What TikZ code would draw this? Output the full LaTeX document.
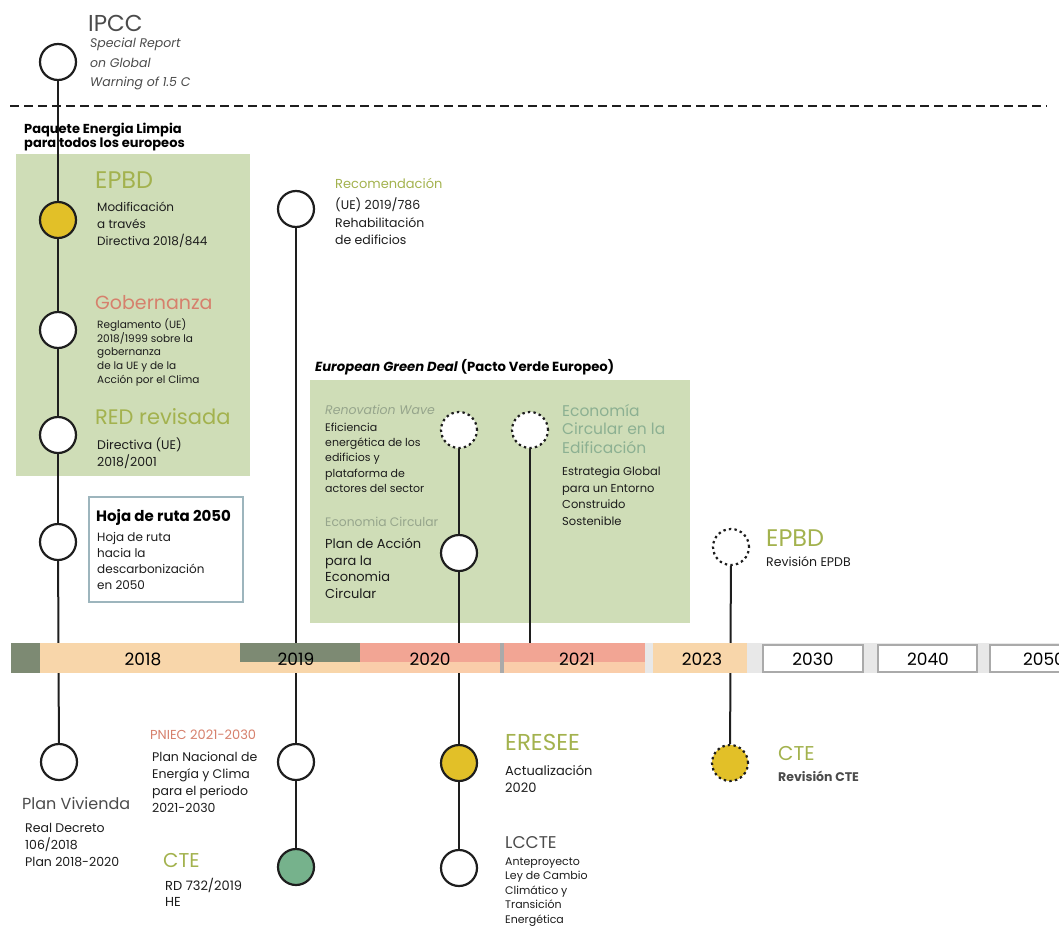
\documentclass[tikz,border=0pt]{standalone}
\usepackage{fontspec}
\setmainfont{Poppins}
\usetikzlibrary{backgrounds}
\definecolor{cBox}{RGB}{207,221,183}
\definecolor{cOlive}{RGB}{163,178,78}
\definecolor{cSalmon}{RGB}{214,128,108}
\definecolor{cMint}{RGB}{140,176,146}
\definecolor{cSage}{RGB}{150,165,140}
\definecolor{cGold}{RGB}{226,192,40}
\definecolor{cGreen}{RGB}{118,178,140}
\definecolor{cDark}{RGB}{125,138,115}
\definecolor{cPeach}{RGB}{248,214,170}
\definecolor{cPeachL}{RGB}{250,205,170}
\definecolor{cSalBar}{RGB}{242,165,148}
\definecolor{cLight}{RGB}{232,232,232}
\definecolor{cBoxB}{RGB}{170,170,170}
\definecolor{cLine}{RGB}{30,30,30}
\definecolor{cBody}{RGB}{28,28,28}
\definecolor{cHoja}{RGB}{157,181,189}
\definecolor{cGreyT}{RGB}{75,75,75}
\begin{document}
\begin{tikzpicture}[x=1pt,y=-1pt,
  ev/.style={circle, draw=cLine, line width=2.2pt, fill=white, minimum size=36pt, inner sep=0pt},
  evgold/.style={ev, fill=cGold},
  evgreen/.style={ev, fill=cGreen},
  evdot/.style={ev, dash pattern=on 2.4pt off 3.2pt},
  conn/.style={draw=cLine, line width=2pt},
  hd/.style={anchor=west, inner sep=0pt, font=\fontsize{19}{22}\selectfont},
  lbl/.style={anchor=west, inner sep=0pt, font=\fontsize{12.5}{14}\selectfont},
  body/.style={anchor=north west, inner sep=0pt, align=left, text=cBody, font=\fontsize{12}{17}\selectfont},
  yr/.style={inner sep=0pt, text=black, font=\fontsize{17}{18}\selectfont},
  yrbox/.style={draw=cBoxB, line width=1.5pt, fill=white}
]
\useasboundingbox (0,0) rectangle (1059,926);

% ---------- event circles ----------
\node[ev] (ipcc) at (58,62) {};
\node[evgold] (epbd) at (58,220) {};
\node[ev] (gob) at (58,330) {};
\node[ev] (red) at (58,435) {};
\node[ev] (hoja) at (58,542) {};
\node[ev] (viv) at (59,762) {};

\node[ev] (rec) at (296,209) {};
\node[ev] (pniec) at (296,762) {};
\node[evgreen] (cteA) at (296,867) {};

\node[evdot] (ren) at (459,430) {};
\node[ev] (eco) at (459,553) {};
\node[evgold] (eres) at (459,763) {};
\node[ev] (lccte) at (459,868) {};

\node[evdot] (edif) at (530,430) {};
\coordinate (edifend) at (530,645);

\node[evdot] (epbdB) at (731,547) {};
\node[evgold, dash pattern=on 2.4pt off 3.2pt] (cteB) at (730,763) {};

% ---------- background boxes and connectors ----------
\begin{scope}[on background layer]
  \fill[cBox] (16,154) rectangle (250,476);
  \fill[cBox] (310,380) rectangle (690,623);
  \draw[conn] (ipcc) -- (epbd);
  \draw[conn] (epbd) -- (gob);
  \draw[conn] (gob) -- (red);
  \draw[conn] (red) -- (hoja);
  \draw[conn] (hoja) -- (viv);
  \draw[conn] (rec) -- (pniec);
  \draw[conn] (pniec) -- (cteA);
  \draw[conn] (ren) -- (eco);
  \draw[conn] (eco) -- (eres);
  \draw[conn] (eres) -- (lccte);
  \draw[conn] (edif) -- (edifend);
  \draw[conn] (epbdB) -- (cteB);
\end{scope}

% ---------- dashed separator ----------
\draw[cLine, line width=2.2pt, dash pattern=on 9pt off 5pt] (10,106) -- (1047,106);

% ---------- timeline bar ----------
\fill[cDark] (11,643) rectangle (40,673);
\fill[cPeach] (40,643) rectangle (240,673);
\fill[cDark] (240,643) rectangle (360,662);
\fill[cPeach] (240,662) rectangle (360,673);
\fill[cSalBar] (360,643) rectangle (500,662);
\fill[cPeachL] (360,662) rectangle (500,673);
\fill[cBoxB] (500,643) rectangle (504,673);
\fill[cSalBar] (504,643) rectangle (645,662);
\fill[cPeachL] (504,662) rectangle (645,673);
\fill[cLight] (645,643) rectangle (653,673);
\fill[cPeach] (653,643) rectangle (747,673);
\fill[cLight] (747,643) rectangle (1059,673);
\draw[yrbox] (763,645) rectangle (863,672);
\draw[yrbox] (878,645) rectangle (977,672);
\draw[yrbox] (990,645) rectangle (1080,672);

\node[yr] (y18) at (143,659) {2018};
\node[yr] (y19) at (296,659) {2019};
\node[yr] (y20) at (430,659) {2020};
\node[yr] (y21) at (577,659) {2021};
\node[yr] (y23) at (702,659) {2023};
\node[yr] (y30) at (813,659) {2030};
\node[yr] (y40) at (928,659) {2040};
\node[yr] (y50) at (1044,659) {2050};

% ---------- top texts ----------
\node[hd, text=cGreyT, font=\fontsize{23}{26}\selectfont] (tipcc) at (88,23) {IPCC};
\node[body, text=cGreyT, font=\itshape\fontsize{12.5}{19.5}\selectfont] (tipccb) at (90,38) {Special Report\\on Global\\Warning of 1.5 C};

\node[anchor=north west, inner sep=0pt, align=left, text=black, font=\bfseries\fontsize{13}{13.5}\selectfont] (tpaq) at (24,123) {Paquete Energia Limpia\\para todos los europeos};

\node[hd, text=cOlive, font=\fontsize{24}{26}\selectfont] (tepbd) at (95,180) {EPBD};
\node[body] (tepbdb) at (97,202) {Modificación\\a través\\Directiva 2018/844};

\node[hd, text=cSalmon] (tgob) at (95,303) {Gobernanza};
\node[body, font=\fontsize{10.5}{13.7}\selectfont] (tgobb) at (97,318.5) {Reglamento (UE)\\2018/1999 sobre la\\gobernanza\\de la UE y de la\\Acción por el Clima};

\node[hd, text=cOlive, font=\fontsize{21}{24}\selectfont] (tred) at (95,417) {RED revisada};
\node[body, font=\fontsize{12.5}{17}\selectfont] (tredb) at (97,438) {Directiva (UE)\\2018/2001};

\draw[cHoja, line width=1.2pt, fill=white] (89,497) rectangle (243,602);
\node[anchor=west, inner sep=0pt, text=black, font=\bfseries\fontsize{15}{17}\selectfont] (thoja) at (96,517) {Hoja de ruta 2050};
\node[body, font=\fontsize{12}{16}\selectfont] (thojab) at (97,532) {Hoja de ruta\\hacia la\\descarbonización\\en 2050};

\node[lbl, text=cOlive, font=\fontsize{13}{14}\selectfont] (trec) at (335,183) {Recomendación};
\node[body, font=\fontsize{12.5}{17.5}\selectfont] (trecb) at (335,198) {(UE) 2019/786\\Rehabilitación\\de edificios};

\node[anchor=west, inner sep=0pt, text=black, font=\bfseries\fontsize{13.2}{14}\selectfont] (tgd) at (315,367) {\textit{European Green Deal} (Pacto Verde Europeo)};

\node[lbl, text=cSage, font=\itshape\fontsize{12.5}{14}\selectfont] (tren) at (325,410) {Renovation Wave};
\node[body, font=\fontsize{11}{15.3}\selectfont] (trenb) at (325,422.5) {Eficiencia\\energética de los\\edificios y\\plataforma de\\actores del sector};

\node[lbl, text=cSage, font=\fontsize{12.3}{14}\selectfont] (teco) at (325,522) {Economia Circular};
\node[body, font=\fontsize{13}{16.7}\selectfont] (tecob) at (325,538) {Plan de Acción\\para la\\Economia\\Circular};

\node[body, text=cMint, font=\fontsize{15.5}{18.5}\selectfont] (tedif) at (562,404) {Economía\\Circular en la\\Edificación};
\node[body, font=\fontsize{11.5}{16.5}\selectfont] (tedifb) at (562,467) {Estrategia Global\\para un Entorno\\Construido\\Sostenible};

\node[hd, text=cOlive, font=\fontsize{24}{26}\selectfont] (tepbdB) at (766,538) {EPBD};
\node[lbl, text=cBody, font=\fontsize{12.5}{14}\selectfont] (tepbdBb) at (766,562) {Revisión EPDB};

% ---------- bottom texts ----------
\node[hd, text=cGreyT, font=\fontsize{16}{20}\selectfont] (tviv) at (22,803) {Plan Vivienda};
\node[body, font=\fontsize{12.5}{17}\selectfont] (tvivb) at (25,823) {Real Decreto\\106/2018\\Plan 2018-2020};

\node[lbl, text=cSalmon, font=\fontsize{13}{14}\selectfont] (tpniec) at (150,735) {PNIEC 2021-2030};
\node[body, font=\fontsize{12.5}{17}\selectfont] (tpniecb) at (152,752) {Plan Nacional de\\Energía y Clima\\para el periodo\\2021-2030};

\node[hd, text=cOlive, font=\fontsize{20}{22}\selectfont] (tcteA) at (163,860) {CTE};
\node[body, font=\fontsize{13}{16}\selectfont] (tcteAb) at (165,878) {RD 732/2019\\HE};

\node[hd, text=cOlive, font=\fontsize{23}{26}\selectfont] (teres) at (505,742) {ERESEE};
\node[body, font=\fontsize{13}{17}\selectfont] (teresb) at (505,765) {Actualización\\2020};

\node[hd, text=cGreyT, font=\fontsize{17}{20}\selectfont] (tlccte) at (505,843) {LCCTE};
\node[body, font=\fontsize{11}{14.5}\selectfont] (tlccteb) at (505,857.5) {Anteproyecto\\Ley de Cambio\\Climático y\\Transición\\Energética};

\node[hd, text=cOlive, font=\fontsize{20}{22}\selectfont] (tcteB) at (778,753) {CTE};
\node[lbl, text=cGreyT, font=\bfseries\fontsize{12.5}{14}\selectfont] (tcteBb) at (778,776) {Revisión CTE};
\end{tikzpicture}
\end{document}
